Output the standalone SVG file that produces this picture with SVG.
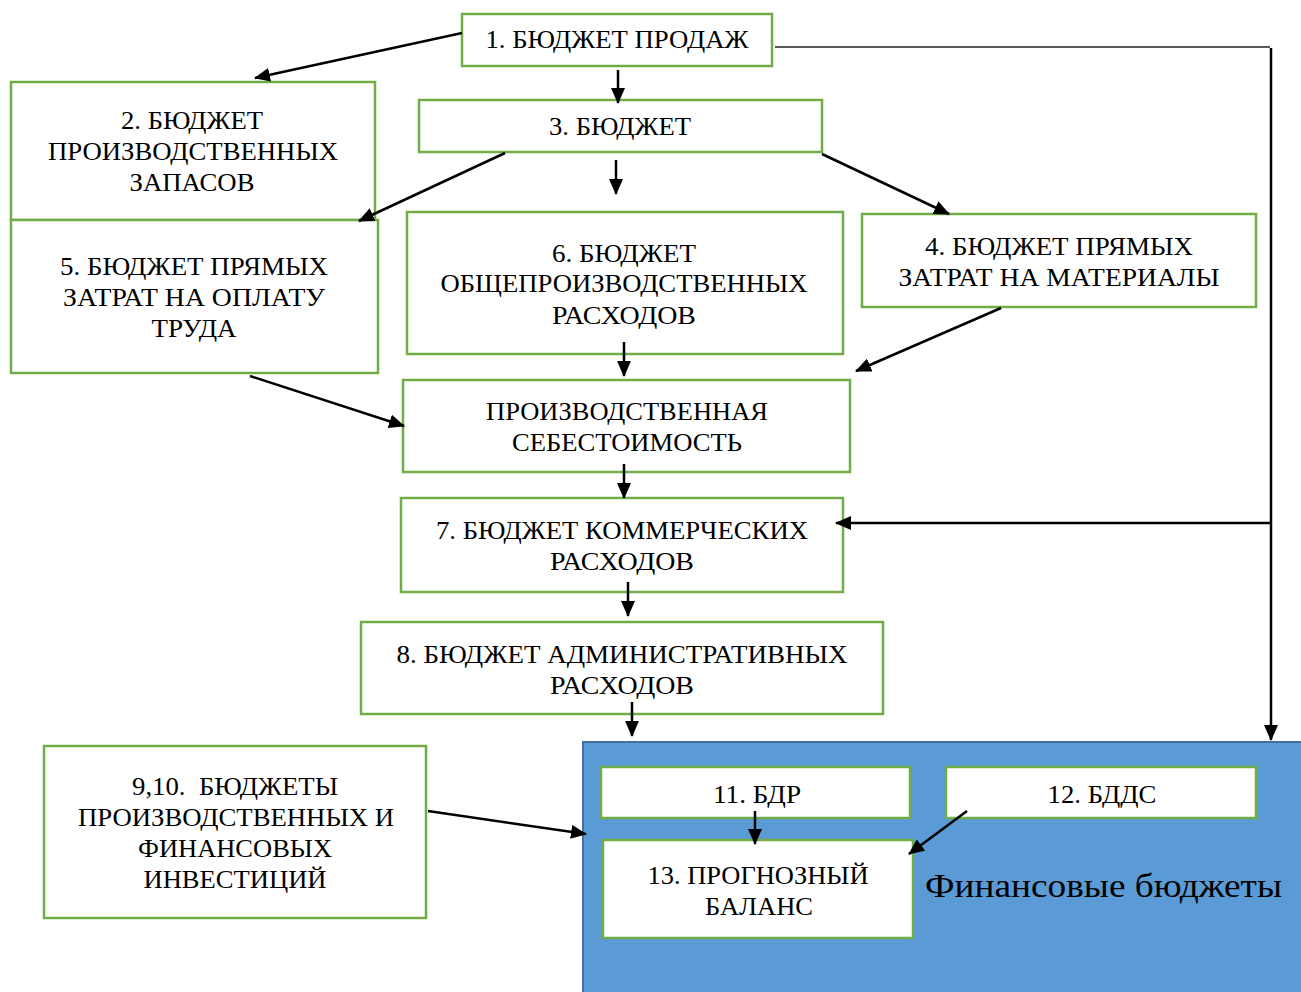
<svg xmlns="http://www.w3.org/2000/svg" width="1301" height="992" viewBox="0 0 1301 992">
<style>
.box{fill:#fff;stroke:#70AD47;stroke-width:2.5}
.t{font-family:"Liberation Serif","Times New Roman",serif;font-size:26px;fill:#000;text-anchor:middle}
.big{font-family:"Liberation Serif","Times New Roman",serif;font-size:34px;fill:#000}
.c{stroke:#000;stroke-width:2.5;fill:none}
</style>
<defs>
<marker id="ah" markerUnits="userSpaceOnUse" markerWidth="16" markerHeight="14" refX="15" refY="7" orient="auto">
<path d="M0,0 L16,7 L0,14 Z" fill="#000"/>
</marker>
</defs>
<rect width="1301" height="992" fill="#fff"/>
<g id="fin">
<rect x="583" y="742" width="720" height="252" fill="#5B9BD5" stroke="#41719C" stroke-width="2"/>
<text class="big" x="925" y="897" textLength="357" lengthAdjust="spacingAndGlyphs">Финансовые бюджеты</text>
</g>
<g id="n1"><rect class="box" x="462" y="14" width="310" height="52"/><text class="t" x="617" y="48" textLength="263" lengthAdjust="spacingAndGlyphs">1. БЮДЖЕТ ПРОДАЖ</text></g>
<g id="n2"><rect class="box" x="11" y="82" width="364" height="138"/>
<text class="t" x="192" y="129" textLength="142" lengthAdjust="spacingAndGlyphs">2. БЮДЖЕТ</text>
<text class="t" x="193" y="160" textLength="290" lengthAdjust="spacingAndGlyphs">ПРОИЗВОДСТВЕННЫХ</text>
<text class="t" x="192" y="191" textLength="125" lengthAdjust="spacingAndGlyphs">ЗАПАСОВ</text></g>
<g id="n3"><rect class="box" x="419" y="100" width="403" height="52"/><text class="t" x="620" y="135" textLength="142" lengthAdjust="spacingAndGlyphs">3. БЮДЖЕТ</text></g>
<g id="n5"><rect class="box" x="11" y="220" width="367" height="153"/>
<text class="t" x="194" y="275" textLength="268" lengthAdjust="spacingAndGlyphs">5. БЮДЖЕТ ПРЯМЫХ</text>
<text class="t" x="194" y="306" textLength="262" lengthAdjust="spacingAndGlyphs">ЗАТРАТ НА ОПЛАТУ</text>
<text class="t" x="194" y="337" textLength="85" lengthAdjust="spacingAndGlyphs">ТРУДА</text></g>
<g id="n6"><rect class="box" x="407" y="212" width="436" height="142"/>
<text class="t" x="624" y="262" textLength="144" lengthAdjust="spacingAndGlyphs">6. БЮДЖЕТ</text>
<text class="t" x="624" y="292" textLength="367" lengthAdjust="spacingAndGlyphs">ОБЩЕПРОИЗВОДСТВЕННЫХ</text>
<text class="t" x="624" y="324" textLength="144" lengthAdjust="spacingAndGlyphs">РАСХОДОВ</text></g>
<g id="n4"><rect class="box" x="862" y="214" width="394" height="93"/>
<text class="t" x="1059" y="255" textLength="268" lengthAdjust="spacingAndGlyphs">4. БЮДЖЕТ ПРЯМЫХ</text>
<text class="t" x="1059" y="286" textLength="321" lengthAdjust="spacingAndGlyphs">ЗАТРАТ НА МАТЕРИАЛЫ</text></g>
<g id="pc"><rect class="box" x="403" y="380" width="447" height="92"/>
<text class="t" x="627" y="420" textLength="282" lengthAdjust="spacingAndGlyphs">ПРОИЗВОДСТВЕННАЯ</text>
<text class="t" x="627" y="451" textLength="230" lengthAdjust="spacingAndGlyphs">СЕБЕСТОИМОСТЬ</text></g>
<g id="n7"><rect class="box" x="401" y="498" width="442" height="94"/>
<text class="t" x="622" y="539" textLength="372" lengthAdjust="spacingAndGlyphs">7. БЮДЖЕТ КОММЕРЧЕСКИХ</text>
<text class="t" x="622" y="570" textLength="144" lengthAdjust="spacingAndGlyphs">РАСХОДОВ</text></g>
<g id="n8"><rect class="box" x="361" y="622" width="522" height="92"/>
<text class="t" x="622" y="663" textLength="451" lengthAdjust="spacingAndGlyphs">8. БЮДЖЕТ АДМИНИСТРАТИВНЫХ</text>
<text class="t" x="622" y="694" textLength="144" lengthAdjust="spacingAndGlyphs">РАСХОДОВ</text></g>
<g id="n9"><rect class="box" x="44" y="746" width="382" height="172"/>
<text class="t" x="235" y="795" textLength="206" lengthAdjust="spacingAndGlyphs" xml:space="preserve">9,10.  БЮДЖЕТЫ</text>
<text class="t" x="236" y="826" textLength="316" lengthAdjust="spacingAndGlyphs">ПРОИЗВОДСТВЕННЫХ И</text>
<text class="t" x="235" y="857" textLength="194" lengthAdjust="spacingAndGlyphs">ФИНАНСОВЫХ</text>
<text class="t" x="235" y="888" textLength="183" lengthAdjust="spacingAndGlyphs">ИНВЕСТИЦИЙ</text></g>
<g id="n11"><rect class="box" x="601" y="767" width="309" height="51"/><text class="t" x="757" y="803" textLength="88" lengthAdjust="spacingAndGlyphs">11. БДР</text></g>
<g id="n12"><rect class="box" x="946" y="767" width="310" height="51"/><text class="t" x="1102" y="803" textLength="109" lengthAdjust="spacingAndGlyphs">12. БДДС</text></g>
<g id="n13"><rect class="box" x="603" y="840" width="310" height="98"/>
<text class="t" x="758" y="884" textLength="221" lengthAdjust="spacingAndGlyphs">13. ПРОГНОЗНЫЙ</text>
<text class="t" x="759" y="915" textLength="108" lengthAdjust="spacingAndGlyphs">БАЛАНС</text></g>
<g id="connectors">
<line class="c" x1="462" y1="33" x2="255" y2="78" marker-end="url(#ah)"/>
<line class="c" x1="618" y1="70" x2="618" y2="103" marker-end="url(#ah)"/>
<line x1="775" y1="47" x2="1270" y2="47" stroke="#595959" stroke-width="2"/>
<line class="c" x1="1271" y1="48" x2="1271" y2="740" marker-end="url(#ah)"/>
<line class="c" x1="505" y1="153" x2="359" y2="221" marker-end="url(#ah)"/>
<line class="c" x1="616" y1="160" x2="616" y2="194" marker-end="url(#ah)"/>
<line class="c" x1="822" y1="154" x2="949" y2="214" marker-end="url(#ah)"/>
<line class="c" x1="624" y1="342" x2="624" y2="376" marker-end="url(#ah)"/>
<line class="c" x1="1001" y1="308" x2="856" y2="371" marker-end="url(#ah)"/>
<line class="c" x1="250" y1="376" x2="404" y2="426" marker-end="url(#ah)"/>
<line class="c" x1="624" y1="464" x2="624" y2="498" marker-end="url(#ah)"/>
<line class="c" x1="1270" y1="523" x2="836" y2="523" marker-end="url(#ah)"/>
<line class="c" x1="628" y1="582" x2="628" y2="616" marker-end="url(#ah)"/>
<line class="c" x1="632" y1="702" x2="632" y2="736" marker-end="url(#ah)"/>
<line class="c" x1="428" y1="811" x2="586" y2="834" marker-end="url(#ah)"/>
<line class="c" x1="755" y1="811" x2="755" y2="844" marker-end="url(#ah)"/>
<line class="c" x1="967" y1="811" x2="909" y2="854" marker-end="url(#ah)"/>
</g>
</svg>
